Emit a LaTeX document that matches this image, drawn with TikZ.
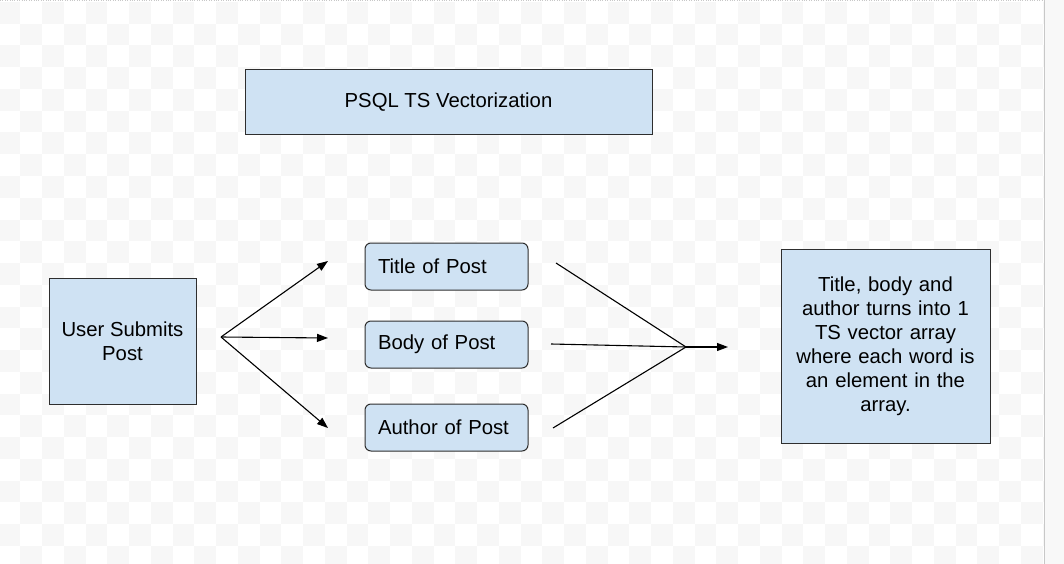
\documentclass[tikz,border=0pt]{standalone}
\usepackage{fontspec}
\setmainfont{Liberation Sans}
\usetikzlibrary{arrows.meta}
\definecolor{boxblue}{HTML}{CFE2F3}
\definecolor{boxline}{HTML}{2E2E2E}
\definecolor{checkgray}{HTML}{F7F7F7}
\definecolor{edgegray}{HTML}{C8C8C8}

\begin{document}
\begin{tikzpicture}[x=1pt, y=-1pt,
	box/.style={draw=boxline, fill=boxblue, line width=1pt, inner sep=0pt, font=\fontsize{20.3}{24}\selectfont},
	item/.style={box, rounded corners=6pt, minimum width=163pt, minimum height=47pt, text width=137pt, align=left},
	flow/.style={-{Triangle[length=11pt, width=8pt]}, line width=1.1pt},
	mergeline/.style={line width=1.1pt}]
	\useasboundingbox (0,0) rectangle (1064,564);
	% background
	\fill [white] (0,0) rectangle (1064,564);
	\begin{scope}
		\clip (0,0) rectangle (1044,564);
		\foreach \i in {0,2,...,48}
			\foreach \j in {0,2,...,26} {
				\fill [checkgray] (\i*21.75-1.5,\j*21.75+2) rectangle ++(21.75,21.75);
				\fill [checkgray] (\i*21.75+20.25,\j*21.75+23.75) rectangle ++(21.75,21.75);
			}
	\end{scope}
	\fill [checkgray!70!edgegray!30] (1044,0) rectangle (1064,564);
	\draw [edgegray, line width=1pt] (1044,0) -- (1044,564);
	\draw [edgegray, dotted] (0,0.5) -- (1044,0.5);

	% boxes
	\node [box, minimum width=407pt, minimum height=65pt] (title) at (448.5,102.5) {PSQL TS Vectorization};
	\node [box, minimum width=147pt, minimum height=126pt, align=center] (user) at (122.5,341) {User Submits\\Post};
	\node [item] (tpost) at (446.5,266.5) {Title of Post};
	\node [item] (bpost) at (446.5,344.5) {Body of Post};
	\node [item] (apost) at (446.5,427.5) {Author of Post};
	\node [box, minimum width=209pt, minimum height=194pt, text width=195pt, align=center] (result) at (885.5,346)
		{Title, body and\\author turns into 1\\TS vector array\\where each word is\\an element in the\\array.};

	% connectors
	\coordinate (fork) at (221,337);
	\coordinate (tin) at (328,261);
	\coordinate (bin) at (328,338);
	\coordinate (ain) at (328,428);
	\coordinate (tout) at (556,263);
	\coordinate (bout) at (551,344);
	\coordinate (aout) at (553,428);
	\coordinate (merge) at (686,347);
	\coordinate (rin) at (728,347);
	\draw [flow] (fork) -- (tin);
	\draw [flow] (fork) -- (bin);
	\draw [flow] (fork) -- (ain);
	\draw [mergeline] (tout) -- (merge);
	\draw [mergeline] (bout) -- (merge);
	\draw [mergeline] (aout) -- (merge);
	\draw [flow] (merge) -- (rin);
\end{tikzpicture}
\end{document}
